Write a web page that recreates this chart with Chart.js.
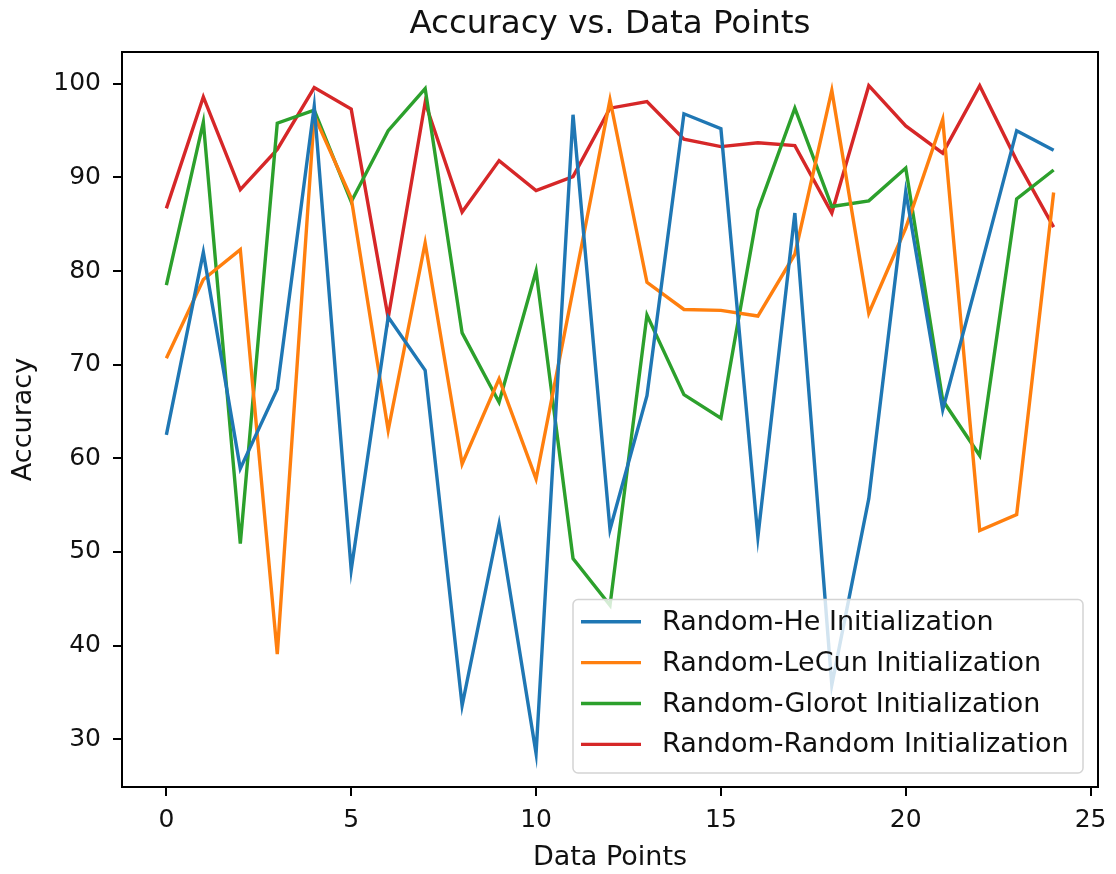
<!DOCTYPE html>
<html>
<head>
<meta charset="utf-8">
<script src="https://cdn.jsdelivr.net/npm/chart.js@4.4.1/dist/chart.umd.min.js"></script>
<style>
  html, body { margin: 0; padding: 0; background: #fff; }
  canvas { display: block; }
</style>
</head>
<body>
<canvas id="acc-chart" width="1116" height="874"></canvas>
<script>
// Data
const dataPoints = [0, 1, 2, 3, 4, 5, 6, 7, 8, 9, 10, 11, 12, 13, 14, 15, 16, 17, 18, 19, 20, 21, 22, 23, 24];
const heAcc     = [62.5, 82.0, 58.9, 67.4, 97.6, 48.1, 75.1, 69.4, 33.6, 53.0, 28.5, 96.7, 52.4, 66.7, 96.8, 95.2, 51.6, 86.2, 35.8, 55.7, 88.5, 65.2, 80.0, 95.0, 92.9];
const lecunAcc  = [70.7, 79.1, 82.3, 39.1, 96.6, 87.8, 63.0, 83.0, 59.4, 68.5, 57.8, 78.0, 98.3, 78.8, 75.9, 75.8, 75.2, 81.8, 99.3, 75.5, 84.6, 96.2, 52.3, 54.0, 88.4];
const glorotAcc = [78.5, 95.9, 50.9, 95.8, 97.2, 87.4, 95.0, 99.5, 73.4, 66.0, 80.0, 49.3, 44.3, 75.3, 66.8, 64.3, 86.5, 97.4, 86.9, 87.5, 91.0, 66.2, 60.3, 87.7, 90.8];
const randomAcc = [86.7, 98.6, 88.7, 93.0, 99.6, 97.3, 75.0, 98.0, 86.3, 91.8, 88.6, 90.1, 97.4, 98.1, 94.1, 93.3, 93.7, 93.4, 86.2, 99.8, 95.5, 92.6, 99.8, 91.8, 84.7];
const seriesLabels = ['Random-He Initialization', 'Random-LeCun Initialization', 'Random-Glorot Initialization', 'Random-Random Initialization'];
const yTicks = [30, 40, 50, 60, 70, 80, 90, 100];
const xTicks = [0, 5, 10, 15, 20, 25];
const chartTitle = 'Accuracy vs. Data Points';

const palette = ['#1f77b4', '#ff7f0e', '#2ca02c', '#d62728'];
const FONT = "'DejaVu Sans', sans-serif";
const INK = '#111';

function toPoints(values) {
    return values.map((v, i) => ({ x: dataPoints[i], y: v }));
}

// title centred over the axes, frame around the plot area, legend lower right
const framePlugin = {
    id: 'frame',
    afterDatasetsDraw(chart) {
        const { ctx, chartArea: a } = chart;
        ctx.save();
        ctx.strokeStyle = '#000';
        ctx.lineWidth = 2;
        ctx.strokeRect(a.left, a.top, a.right - a.left, a.bottom - a.top);

        ctx.font = '32.5px ' + FONT;
        ctx.fillStyle = INK;
        ctx.textAlign = 'center';
        ctx.textBaseline = 'middle';
        ctx.fillText(chartTitle, (a.left + a.right) / 2, 25);

        // legend box
        const boxL = 573, boxT = 599.5, boxW = 510, boxH = 173.5;
        ctx.beginPath();
        ctx.roundRect(boxL, boxT, boxW, boxH, 5);
        ctx.fillStyle = 'rgba(255,255,255,0.8)';
        ctx.fill();
        ctx.strokeStyle = '#d4d4d4';
        ctx.lineWidth = 1.5;
        ctx.stroke();

        ctx.font = '27px ' + FONT;
        ctx.textBaseline = 'middle';
        ctx.textAlign = 'left';
        chart.data.datasets.forEach((ds, i) => {
            const y = 621.7 + i * 40.9;
            ctx.beginPath();
            ctx.moveTo(581, y);
            ctx.lineTo(641, y);
            ctx.strokeStyle = ds.borderColor;
            ctx.lineWidth = 3.4;
            ctx.stroke();
            ctx.fillStyle = INK;
            ctx.fillText(ds.label, 662, y + 1);
        });
        ctx.restore();
    }
};

const series = [heAcc, lecunAcc, glorotAcc, randomAcc];

new Chart(document.getElementById('acc-chart').getContext('2d'), {
    type: 'line',
    data: {
        datasets: series.map((vals, i) => ({
            label: seriesLabels[i],
            data: toPoints(vals),
            borderColor: palette[i],
            backgroundColor: palette[i],
            borderWidth: 3.4,
            pointRadius: 0,
            tension: 0,
            fill: false
        }))
    },
    options: {
        responsive: false,
        animation: false,
        layout: { padding: { left: 0, right: 18, top: 52, bottom: 0 } },
        plugins: {
            legend: { display: false },
            tooltip: { enabled: false },
            title: { display: false }
        },
        scales: {
            x: {
                type: 'linear',
                min: -1.2,
                max: 25.2,
                afterFit: s => { s.height = 87; },
                afterBuildTicks: s => { s.ticks = xTicks.map(v => ({ value: v })); },
                grid: { display: true, drawOnChartArea: false, drawTicks: true, tickLength: 9, color: '#000', lineWidth: 2 },
                border: { display: true, color: '#000', width: 2 },
                ticks: { color: INK, font: { family: FONT, size: 25 }, padding: 9, maxRotation: 0 },
                title: { display: true, text: 'Data Points', color: INK, font: { family: FONT, size: 27 }, padding: { top: 0, bottom: 0 } }
            },
            y: {
                min: 24.9,
                max: 103.4,
                afterFit: s => { s.width = 122; },
                afterBuildTicks: s => { s.ticks = yTicks.map(v => ({ value: v })); },
                grid: { display: true, drawOnChartArea: false, drawTicks: true, tickLength: 9, color: '#000', lineWidth: 2 },
                border: { display: true, color: '#000', width: 2 },
                ticks: { color: INK, font: { family: FONT, size: 25 }, padding: 12 },
                title: { display: true, text: 'Accuracy', color: INK, font: { family: FONT, size: 27 }, padding: { top: 8, bottom: 0 } }
            }
        }
    },
    plugins: [framePlugin]
});
</script>
</body>
</html>
